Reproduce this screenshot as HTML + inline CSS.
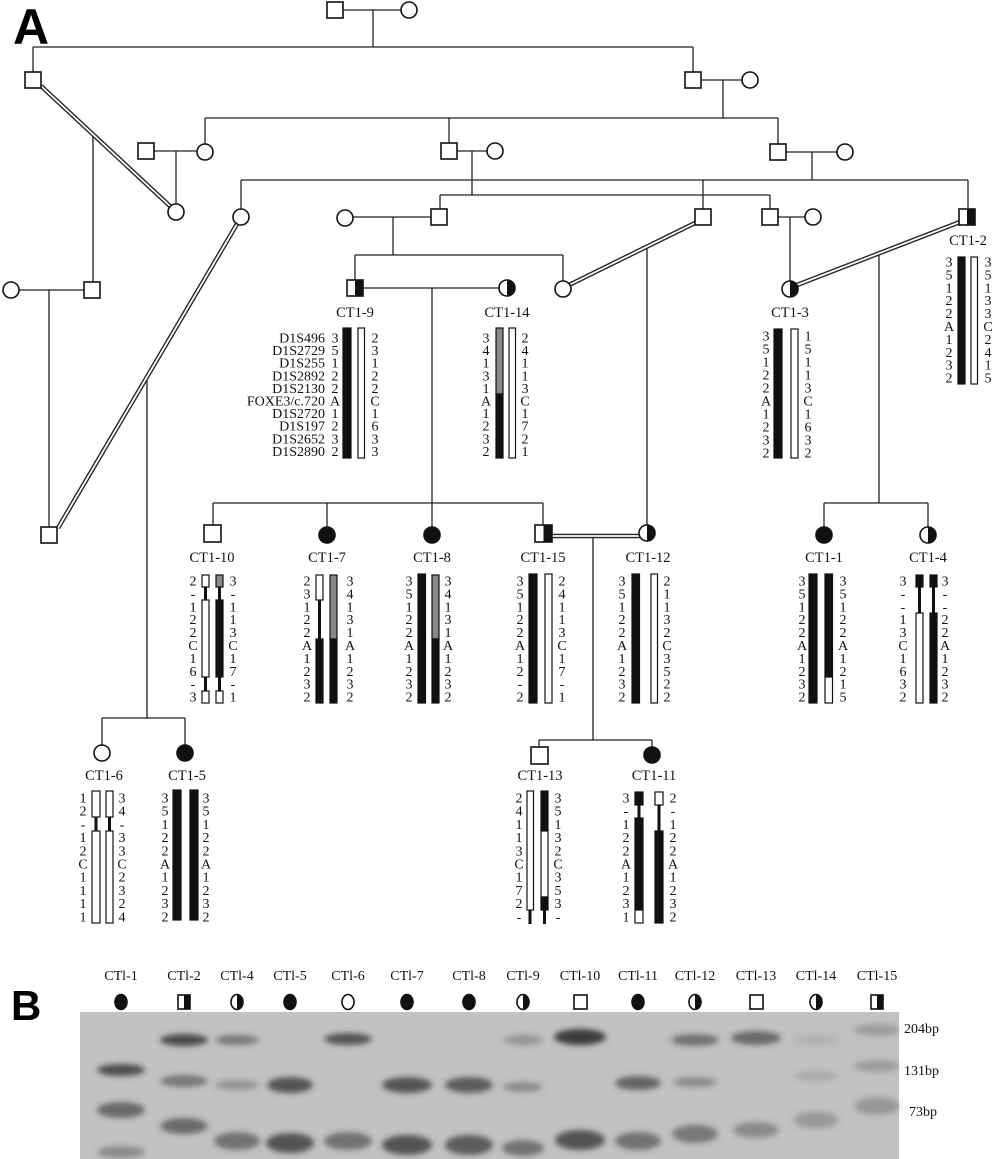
<!DOCTYPE html>
<html><head><meta charset="utf-8"><style>
html,body{margin:0;padding:0;background:#fff}
svg{display:block}
.d{font-family:"Liberation Serif",serif;font-size:14px;text-anchor:middle;fill:#111}
.lb{font-family:"Liberation Serif",serif;font-size:14.5px;text-anchor:middle;fill:#111}
.nm{font-family:"Liberation Serif",serif;font-size:14px;text-anchor:end;fill:#111}
.g{font-family:"Liberation Serif",serif;font-size:14px;text-anchor:middle;fill:#111}
</style></head><body>
<svg width="1000" height="1159" viewBox="0 0 1000 1159" xmlns="http://www.w3.org/2000/svg">
<defs><filter id="bl" x="-50%" y="-100%" width="200%" height="300%"><feGaussianBlur stdDeviation="3"/></filter></defs>
<text x="13" y="44" font-family="Liberation Sans,sans-serif" font-weight="bold" font-size="50">A</text>

<g stroke="#222" stroke-width="1.3" fill="none">
<line x1="343" y1="10" x2="401" y2="10"/><line x1="373" y1="10" x2="373" y2="47"/>
<line x1="33" y1="47" x2="693" y2="47"/><line x1="33" y1="47" x2="33" y2="72"/><line x1="693" y1="47" x2="693" y2="72"/>
<line x1="701" y1="80" x2="742" y2="80"/><line x1="723" y1="80" x2="723" y2="118"/>
<line x1="205" y1="118" x2="778" y2="118"/>
<line x1="205" y1="118" x2="205" y2="144"/><line x1="449" y1="118" x2="449" y2="143"/><line x1="778" y1="118" x2="778" y2="144"/>
<line x1="154" y1="151" x2="197" y2="151"/><line x1="176" y1="151" x2="176" y2="204"/>
<line x1="457" y1="151" x2="487" y2="151"/><line x1="472" y1="151" x2="472" y2="195"/>
<line x1="786" y1="152" x2="837" y2="152"/><line x1="812" y1="152" x2="812" y2="180"/>
<line x1="241" y1="180" x2="968" y2="180"/>
<line x1="241" y1="180" x2="241" y2="209"/><line x1="703" y1="180" x2="703" y2="209"/><line x1="968" y1="180" x2="968" y2="209"/>
<line x1="440" y1="195" x2="770" y2="195"/><line x1="440" y1="195" x2="440" y2="209"/><line x1="770" y1="195" x2="770" y2="209"/>
<line x1="93" y1="134" x2="93" y2="282"/>
<line x1="19" y1="290" x2="84" y2="290"/><line x1="49" y1="290" x2="49" y2="527"/>
<line x1="147" y1="379" x2="147" y2="718"/><line x1="102" y1="718" x2="185" y2="718"/>
<line x1="102" y1="718" x2="102" y2="745"/><line x1="185" y1="718" x2="185" y2="745"/>
<line x1="353" y1="217" x2="431" y2="217"/><line x1="393" y1="217" x2="393" y2="255"/>
<line x1="355" y1="255" x2="563" y2="255"/><line x1="355" y1="255" x2="355" y2="280"/><line x1="563" y1="255" x2="563" y2="281"/>
<line x1="647" y1="247" x2="647" y2="525"/>
<line x1="778" y1="217" x2="805" y2="217"/><line x1="790" y1="217" x2="790" y2="281"/>
<line x1="879" y1="253" x2="879" y2="503"/><line x1="824" y1="503" x2="928" y2="503"/>
<line x1="824" y1="503" x2="824" y2="527"/><line x1="928" y1="503" x2="928" y2="527"/>
<line x1="363" y1="288" x2="499" y2="288"/><line x1="432" y1="288" x2="432" y2="503"/>
<line x1="213" y1="503" x2="543" y2="503"/>
<line x1="213" y1="503" x2="213" y2="525"/><line x1="327" y1="503" x2="327" y2="527"/><line x1="432" y1="503" x2="432" y2="527"/><line x1="543" y1="503" x2="543" y2="525"/>
<line x1="593" y1="538" x2="593" y2="740"/><line x1="539" y1="740" x2="652" y2="740"/>
<line x1="539" y1="740" x2="539" y2="747"/><line x1="652" y1="740" x2="652" y2="747"/>
</g>
<g stroke-linecap="butt">
<g stroke="#222" stroke-width="4.5">
<line x1="41" y1="86" x2="171" y2="207"/><line x1="58" y1="528" x2="237" y2="224"/>
<line x1="569" y1="285" x2="697" y2="222"/><line x1="797" y1="285" x2="960" y2="222"/>
<line x1="552" y1="536" x2="640" y2="536"/>
</g>
<g stroke="#fff" stroke-width="1.8">
<line x1="41" y1="86" x2="171" y2="207"/><line x1="58" y1="528" x2="237" y2="224"/>
<line x1="569" y1="285" x2="697" y2="222"/><line x1="797" y1="285" x2="960" y2="222"/>
<line x1="552" y1="536" x2="640" y2="536"/>
</g>
</g>
<g stroke="#111" stroke-width="1.6" fill="#fff">
<rect x="327" y="2" width="16" height="16"/><circle cx="409" cy="10" r="8"/>
<rect x="25" y="72" width="16" height="16"/><rect x="685" y="72" width="16" height="16"/><circle cx="750" cy="80" r="8"/>
<rect x="138" y="143" width="16" height="16"/><circle cx="205" cy="152" r="8"/>
<rect x="441" y="143" width="16" height="16"/><circle cx="495" cy="151" r="8"/>
<rect x="770" y="144" width="16" height="16"/><circle cx="845" cy="152" r="8"/>
<circle cx="176" cy="212" r="8"/><circle cx="241" cy="217" r="8"/>
<circle cx="345" cy="218" r="8"/><rect x="431" y="209" width="16" height="16"/>
<rect x="695" y="209" width="16" height="16"/><rect x="762" y="209" width="16" height="16"/><circle cx="813" cy="217" r="8"/>
<rect x="959" y="209" width="16" height="16"/>
<circle cx="11" cy="290" r="8"/><rect x="84" y="282" width="16" height="16"/>
<rect x="41" y="527" width="16" height="16"/>
<circle cx="563" cy="289" r="8"/>
<rect x="347" y="280" width="16" height="16"/><circle cx="507" cy="288" r="8"/>
<circle cx="790" cy="289" r="8"/>
<rect x="204" y="525" width="17" height="17"/><circle cx="327" cy="535" r="8" fill="#111"/><circle cx="432" cy="535" r="8" fill="#111"/>
<rect x="535" y="525" width="17" height="17"/><circle cx="647" cy="533" r="8"/>
<circle cx="824" cy="535" r="8" fill="#111"/><circle cx="928" cy="535" r="8"/>
<circle cx="102" cy="753" r="8"/><circle cx="185" cy="753" r="8" fill="#111"/>
<rect x="531" y="747" width="17" height="17"/><circle cx="652" cy="755" r="8" fill="#111"/>
</g>
<g fill="#111">
<rect x="967" y="209" width="8" height="16"/><rect x="355" y="280" width="8" height="16"/><rect x="543.5" y="525" width="8.5" height="17"/>
<path d="M507 280 A8 8 0 0 1 507 296Z"/><path d="M790 281 A8 8 0 0 1 790 297Z"/><path d="M647 525 A8 8 0 0 1 647 541Z"/><path d="M928 527 A8 8 0 0 1 928 543Z"/>
</g>

<text class="lb" x="355" y="317">CT1-9</text><text class="lb" x="507" y="317">CT1-14</text>
<text class="lb" x="968" y="245">CT1-2</text><text class="lb" x="790" y="317">CT1-3</text>
<text class="lb" x="212" y="562">CT1-10</text><text class="lb" x="327" y="562">CT1-7</text><text class="lb" x="432" y="562">CT1-8</text>
<text class="lb" x="543" y="562">CT1-15</text><text class="lb" x="648" y="562">CT1-12</text>
<text class="lb" x="824" y="562">CT1-1</text><text class="lb" x="928" y="562">CT1-4</text>
<text class="lb" x="104" y="780">CT1-6</text><text class="lb" x="187" y="780">CT1-5</text>
<text class="lb" x="540" y="780">CT1-13</text><text class="lb" x="654" y="780">CT1-11</text>

<text class="nm" y="342.5"><tspan x="325">D1S496</tspan><tspan x="325" dy="12.6">D1S2729</tspan><tspan x="325" dy="12.6">D1S255</tspan><tspan x="325" dy="12.6">D1S2892</tspan><tspan x="325" dy="12.6">D1S2130</tspan><tspan x="325" dy="12.6">FOXE3/c.720</tspan><tspan x="325" dy="12.6">D1S2720</tspan><tspan x="325" dy="12.6">D1S197</tspan><tspan x="325" dy="12.6">D1S2652</tspan><tspan x="325" dy="12.6">D1S2890</tspan></text>

<g stroke="#111" stroke-width="1.2">
<rect x="343" y="328" width="8" height="130" fill="#111"/><rect x="358" y="328" width="6.5" height="130" fill="#fff"/>
<rect x="496" y="328" width="7" height="66" fill="#888"/><rect x="496" y="394" width="7" height="64" fill="#111"/><rect x="509" y="328" width="6.5" height="130" fill="#fff"/>
<rect x="958" y="257" width="7" height="127" fill="#111"/><rect x="971" y="257" width="6.5" height="127" fill="#fff"/>
<rect x="774" y="329" width="8" height="129" fill="#111"/><rect x="791" y="329" width="7" height="129" fill="#fff"/>
<line x1="205.5" y1="587" x2="205.5" y2="600" stroke-width="3"/><line x1="205.5" y1="677" x2="205.5" y2="691" stroke-width="3"/>
<rect x="202" y="575" width="7" height="12" fill="#fff"/><rect x="202" y="600" width="7" height="77" fill="#fff"/><rect x="202" y="691" width="7" height="12" fill="#fff"/>
<line x1="219.5" y1="587" x2="219.5" y2="600" stroke-width="3"/><line x1="219.5" y1="677" x2="219.5" y2="691" stroke-width="3"/>
<rect x="216" y="575" width="7" height="12" fill="#888"/><rect x="216" y="600" width="7" height="77" fill="#111"/><rect x="216" y="691" width="7" height="12" fill="#fff"/>
<line x1="319.5" y1="600" x2="319.5" y2="639" stroke-width="3"/>
<rect x="316" y="575" width="7" height="25" fill="#fff"/><rect x="316" y="639" width="7" height="64" fill="#111"/>
<rect x="330" y="575" width="7" height="64" fill="#888"/><rect x="330" y="639" width="7" height="64" fill="#111"/>
<rect x="418" y="574" width="7.5" height="129" fill="#111"/>
<rect x="432" y="575" width="7" height="64" fill="#888"/><rect x="432" y="639" width="7" height="64" fill="#111"/>
<rect x="529" y="574" width="8" height="129" fill="#111"/><rect x="545" y="574" width="7" height="129" fill="#fff"/>
<rect x="632" y="574" width="7.5" height="129" fill="#111"/><rect x="651" y="574" width="6.5" height="129" fill="#fff"/>
<rect x="809" y="574" width="8" height="129" fill="#111"/>
<rect x="825" y="574" width="7.5" height="103" fill="#111"/><rect x="825" y="677" width="7.5" height="26" fill="#fff"/>
<line x1="919.5" y1="587" x2="919.5" y2="613" stroke-width="3"/><line x1="933.5" y1="587" x2="933.5" y2="613" stroke-width="3"/>
<rect x="916" y="575" width="7" height="12" fill="#111"/><rect x="916" y="613" width="7" height="90" fill="#fff"/>
<rect x="930" y="575" width="7" height="12" fill="#111"/><rect x="930" y="613" width="7" height="90" fill="#111"/>
<line x1="96" y1="817" x2="96" y2="831" stroke-width="3"/><line x1="109.5" y1="817" x2="109.5" y2="831" stroke-width="3"/>
<rect x="92" y="791" width="8" height="26" fill="#fff"/><rect x="92" y="831" width="8" height="92" fill="#fff"/>
<rect x="106" y="791" width="7" height="26" fill="#fff"/><rect x="106" y="831" width="7" height="92" fill="#fff"/>
<rect x="173" y="790" width="8" height="130" fill="#111"/><rect x="190" y="790" width="8" height="130" fill="#111"/>
<line x1="530" y1="910" x2="530" y2="924" stroke-width="3"/><line x1="544.5" y1="910" x2="544.5" y2="924" stroke-width="3"/>
<rect x="527" y="791" width="6.5" height="119" fill="#fff"/>
<rect x="541" y="791" width="7" height="40" fill="#111"/><rect x="541" y="831" width="7" height="66" fill="#fff"/><rect x="541" y="897" width="7" height="13" fill="#111"/>
<line x1="639" y1="805" x2="639" y2="818" stroke-width="3"/><line x1="659" y1="805" x2="659" y2="831" stroke-width="3"/>
<rect x="635" y="792" width="8" height="13" fill="#111"/><rect x="635" y="818" width="8" height="92" fill="#111"/><rect x="635" y="910" width="8" height="13" fill="#fff"/>
<rect x="655" y="792" width="8" height="13" fill="#fff"/><rect x="655" y="831" width="8" height="92" fill="#111"/>
</g>

<g>
<text class="d" y="342.5"><tspan x="335">3</tspan><tspan x="335" dy="12.6">5</tspan><tspan x="335" dy="12.6">1</tspan><tspan x="335" dy="12.6">2</tspan><tspan x="335" dy="12.6">2</tspan><tspan x="335" dy="12.6">A</tspan><tspan x="335" dy="12.6">1</tspan><tspan x="335" dy="12.6">2</tspan><tspan x="335" dy="12.6">3</tspan><tspan x="335" dy="12.6">2</tspan></text>
<text class="d" y="342.5"><tspan x="375">2</tspan><tspan x="375" dy="12.6">3</tspan><tspan x="375" dy="12.6">1</tspan><tspan x="375" dy="12.6">2</tspan><tspan x="375" dy="12.6">2</tspan><tspan x="375" dy="12.6">C</tspan><tspan x="375" dy="12.6">1</tspan><tspan x="375" dy="12.6">6</tspan><tspan x="375" dy="12.6">3</tspan><tspan x="375" dy="12.6">3</tspan></text>
<text class="d" y="342.5"><tspan x="486">3</tspan><tspan x="486" dy="12.6">4</tspan><tspan x="486" dy="12.6">1</tspan><tspan x="486" dy="12.6">3</tspan><tspan x="486" dy="12.6">1</tspan><tspan x="486" dy="12.6">A</tspan><tspan x="486" dy="12.6">1</tspan><tspan x="486" dy="12.6">2</tspan><tspan x="486" dy="12.6">3</tspan><tspan x="486" dy="12.6">2</tspan></text>
<text class="d" y="342.5"><tspan x="525">2</tspan><tspan x="525" dy="12.6">4</tspan><tspan x="525" dy="12.6">1</tspan><tspan x="525" dy="12.6">1</tspan><tspan x="525" dy="12.6">3</tspan><tspan x="525" dy="12.6">C</tspan><tspan x="525" dy="12.6">1</tspan><tspan x="525" dy="12.6">7</tspan><tspan x="525" dy="12.6">2</tspan><tspan x="525" dy="12.6">1</tspan></text>

<text class="d" y="266.5"><tspan x="949">3</tspan><tspan x="949" dy="12.9">5</tspan><tspan x="949" dy="12.9">1</tspan><tspan x="949" dy="12.9">2</tspan><tspan x="949" dy="12.9">2</tspan><tspan x="949" dy="12.9">A</tspan><tspan x="949" dy="12.9">1</tspan><tspan x="949" dy="12.9">2</tspan><tspan x="949" dy="12.9">3</tspan><tspan x="949" dy="12.9">2</tspan></text>
<text class="d" y="266.5"><tspan x="988">3</tspan><tspan x="988" dy="12.9">5</tspan><tspan x="988" dy="12.9">1</tspan><tspan x="988" dy="12.9">3</tspan><tspan x="988" dy="12.9">3</tspan><tspan x="988" dy="12.9">C</tspan><tspan x="988" dy="12.9">2</tspan><tspan x="988" dy="12.9">4</tspan><tspan x="988" dy="12.9">1</tspan><tspan x="988" dy="12.9">5</tspan></text>

<text class="d" y="340.5"><tspan x="766">3</tspan><tspan x="766" dy="13">5</tspan><tspan x="766" dy="13">1</tspan><tspan x="766" dy="13">2</tspan><tspan x="766" dy="13">2</tspan><tspan x="766" dy="13">A</tspan><tspan x="766" dy="13">1</tspan><tspan x="766" dy="13">2</tspan><tspan x="766" dy="13">3</tspan><tspan x="766" dy="13">2</tspan></text>
<text class="d" y="340.5"><tspan x="808">1</tspan><tspan x="808" dy="13">5</tspan><tspan x="808" dy="13">1</tspan><tspan x="808" dy="13">1</tspan><tspan x="808" dy="13">3</tspan><tspan x="808" dy="13">C</tspan><tspan x="808" dy="13">1</tspan><tspan x="808" dy="13">6</tspan><tspan x="808" dy="13">3</tspan><tspan x="808" dy="13">2</tspan></text>

<text class="d" y="585.5"><tspan x="193">2</tspan><tspan x="193" dy="12.9">-</tspan><tspan x="193" dy="12.9">1</tspan><tspan x="193" dy="12.9">2</tspan><tspan x="193" dy="12.9">2</tspan><tspan x="193" dy="12.9">C</tspan><tspan x="193" dy="12.9">1</tspan><tspan x="193" dy="12.9">6</tspan><tspan x="193" dy="12.9">-</tspan><tspan x="193" dy="12.9">3</tspan></text>
<text class="d" y="585.5"><tspan x="233">3</tspan><tspan x="233" dy="12.9">-</tspan><tspan x="233" dy="12.9">1</tspan><tspan x="233" dy="12.9">1</tspan><tspan x="233" dy="12.9">3</tspan><tspan x="233" dy="12.9">C</tspan><tspan x="233" dy="12.9">1</tspan><tspan x="233" dy="12.9">7</tspan><tspan x="233" dy="12.9">-</tspan><tspan x="233" dy="12.9">1</tspan></text>
<text class="d" y="585.5"><tspan x="307">2</tspan><tspan x="307" dy="12.9">3</tspan><tspan x="307" dy="12.9">1</tspan><tspan x="307" dy="12.9">2</tspan><tspan x="307" dy="12.9">2</tspan><tspan x="307" dy="12.9">A</tspan><tspan x="307" dy="12.9">1</tspan><tspan x="307" dy="12.9">2</tspan><tspan x="307" dy="12.9">3</tspan><tspan x="307" dy="12.9">2</tspan></text>
<text class="d" y="585.5"><tspan x="350">3</tspan><tspan x="350" dy="12.9">4</tspan><tspan x="350" dy="12.9">1</tspan><tspan x="350" dy="12.9">3</tspan><tspan x="350" dy="12.9">1</tspan><tspan x="350" dy="12.9">A</tspan><tspan x="350" dy="12.9">1</tspan><tspan x="350" dy="12.9">2</tspan><tspan x="350" dy="12.9">3</tspan><tspan x="350" dy="12.9">2</tspan></text>
<text class="d" y="585.5"><tspan x="409">3</tspan><tspan x="409" dy="12.9">5</tspan><tspan x="409" dy="12.9">1</tspan><tspan x="409" dy="12.9">2</tspan><tspan x="409" dy="12.9">2</tspan><tspan x="409" dy="12.9">A</tspan><tspan x="409" dy="12.9">1</tspan><tspan x="409" dy="12.9">2</tspan><tspan x="409" dy="12.9">3</tspan><tspan x="409" dy="12.9">2</tspan></text>
<text class="d" y="585.5"><tspan x="448">3</tspan><tspan x="448" dy="12.9">4</tspan><tspan x="448" dy="12.9">1</tspan><tspan x="448" dy="12.9">3</tspan><tspan x="448" dy="12.9">1</tspan><tspan x="448" dy="12.9">A</tspan><tspan x="448" dy="12.9">1</tspan><tspan x="448" dy="12.9">2</tspan><tspan x="448" dy="12.9">3</tspan><tspan x="448" dy="12.9">2</tspan></text>
<text class="d" y="585.5"><tspan x="520">3</tspan><tspan x="520" dy="12.9">5</tspan><tspan x="520" dy="12.9">1</tspan><tspan x="520" dy="12.9">2</tspan><tspan x="520" dy="12.9">2</tspan><tspan x="520" dy="12.9">A</tspan><tspan x="520" dy="12.9">1</tspan><tspan x="520" dy="12.9">2</tspan><tspan x="520" dy="12.9">-</tspan><tspan x="520" dy="12.9">2</tspan></text>
<text class="d" y="585.5"><tspan x="562">2</tspan><tspan x="562" dy="12.9">4</tspan><tspan x="562" dy="12.9">1</tspan><tspan x="562" dy="12.9">1</tspan><tspan x="562" dy="12.9">3</tspan><tspan x="562" dy="12.9">C</tspan><tspan x="562" dy="12.9">1</tspan><tspan x="562" dy="12.9">7</tspan><tspan x="562" dy="12.9">-</tspan><tspan x="562" dy="12.9">1</tspan></text>
<text class="d" y="585.5"><tspan x="622">3</tspan><tspan x="622" dy="12.9">5</tspan><tspan x="622" dy="12.9">1</tspan><tspan x="622" dy="12.9">2</tspan><tspan x="622" dy="12.9">2</tspan><tspan x="622" dy="12.9">A</tspan><tspan x="622" dy="12.9">1</tspan><tspan x="622" dy="12.9">2</tspan><tspan x="622" dy="12.9">3</tspan><tspan x="622" dy="12.9">2</tspan></text>
<text class="d" y="585.5"><tspan x="667">2</tspan><tspan x="667" dy="12.9">1</tspan><tspan x="667" dy="12.9">1</tspan><tspan x="667" dy="12.9">3</tspan><tspan x="667" dy="12.9">2</tspan><tspan x="667" dy="12.9">C</tspan><tspan x="667" dy="12.9">3</tspan><tspan x="667" dy="12.9">5</tspan><tspan x="667" dy="12.9">2</tspan><tspan x="667" dy="12.9">2</tspan></text>
<text class="d" y="585.5"><tspan x="802">3</tspan><tspan x="802" dy="12.9">5</tspan><tspan x="802" dy="12.9">1</tspan><tspan x="802" dy="12.9">2</tspan><tspan x="802" dy="12.9">2</tspan><tspan x="802" dy="12.9">A</tspan><tspan x="802" dy="12.9">1</tspan><tspan x="802" dy="12.9">2</tspan><tspan x="802" dy="12.9">3</tspan><tspan x="802" dy="12.9">2</tspan></text>
<text class="d" y="585.5"><tspan x="843">3</tspan><tspan x="843" dy="12.9">5</tspan><tspan x="843" dy="12.9">1</tspan><tspan x="843" dy="12.9">2</tspan><tspan x="843" dy="12.9">2</tspan><tspan x="843" dy="12.9">A</tspan><tspan x="843" dy="12.9">1</tspan><tspan x="843" dy="12.9">2</tspan><tspan x="843" dy="12.9">1</tspan><tspan x="843" dy="12.9">5</tspan></text>
<text class="d" y="585.5"><tspan x="903">3</tspan><tspan x="903" dy="12.9">-</tspan><tspan x="903" dy="12.9">-</tspan><tspan x="903" dy="12.9">1</tspan><tspan x="903" dy="12.9">3</tspan><tspan x="903" dy="12.9">C</tspan><tspan x="903" dy="12.9">1</tspan><tspan x="903" dy="12.9">6</tspan><tspan x="903" dy="12.9">3</tspan><tspan x="903" dy="12.9">2</tspan></text>
<text class="d" y="585.5"><tspan x="945">3</tspan><tspan x="945" dy="12.9">-</tspan><tspan x="945" dy="12.9">-</tspan><tspan x="945" dy="12.9">2</tspan><tspan x="945" dy="12.9">2</tspan><tspan x="945" dy="12.9">A</tspan><tspan x="945" dy="12.9">1</tspan><tspan x="945" dy="12.9">2</tspan><tspan x="945" dy="12.9">3</tspan><tspan x="945" dy="12.9">2</tspan></text>

<text class="d" y="802.5"><tspan x="83">1</tspan><tspan x="83" dy="13.2">2</tspan><tspan x="83" dy="13.2">-</tspan><tspan x="83" dy="13.2">1</tspan><tspan x="83" dy="13.2">2</tspan><tspan x="83" dy="13.2">C</tspan><tspan x="83" dy="13.2">1</tspan><tspan x="83" dy="13.2">1</tspan><tspan x="83" dy="13.2">1</tspan><tspan x="83" dy="13.2">1</tspan></text>
<text class="d" y="802.5"><tspan x="122">3</tspan><tspan x="122" dy="13.2">4</tspan><tspan x="122" dy="13.2">-</tspan><tspan x="122" dy="13.2">3</tspan><tspan x="122" dy="13.2">3</tspan><tspan x="122" dy="13.2">C</tspan><tspan x="122" dy="13.2">2</tspan><tspan x="122" dy="13.2">3</tspan><tspan x="122" dy="13.2">2</tspan><tspan x="122" dy="13.2">4</tspan></text>
<text class="d" y="802.5"><tspan x="165">3</tspan><tspan x="165" dy="13.2">5</tspan><tspan x="165" dy="13.2">1</tspan><tspan x="165" dy="13.2">2</tspan><tspan x="165" dy="13.2">2</tspan><tspan x="165" dy="13.2">A</tspan><tspan x="165" dy="13.2">1</tspan><tspan x="165" dy="13.2">2</tspan><tspan x="165" dy="13.2">3</tspan><tspan x="165" dy="13.2">2</tspan></text>
<text class="d" y="802.5"><tspan x="206">3</tspan><tspan x="206" dy="13.2">5</tspan><tspan x="206" dy="13.2">1</tspan><tspan x="206" dy="13.2">2</tspan><tspan x="206" dy="13.2">2</tspan><tspan x="206" dy="13.2">A</tspan><tspan x="206" dy="13.2">1</tspan><tspan x="206" dy="13.2">2</tspan><tspan x="206" dy="13.2">3</tspan><tspan x="206" dy="13.2">2</tspan></text>
<text class="d" y="802.5"><tspan x="519">2</tspan><tspan x="519" dy="13.2">4</tspan><tspan x="519" dy="13.2">1</tspan><tspan x="519" dy="13.2">1</tspan><tspan x="519" dy="13.2">3</tspan><tspan x="519" dy="13.2">C</tspan><tspan x="519" dy="13.2">1</tspan><tspan x="519" dy="13.2">7</tspan><tspan x="519" dy="13.2">2</tspan><tspan x="519" dy="13.2">-</tspan></text>
<text class="d" y="802.5"><tspan x="558">3</tspan><tspan x="558" dy="13.2">5</tspan><tspan x="558" dy="13.2">1</tspan><tspan x="558" dy="13.2">3</tspan><tspan x="558" dy="13.2">2</tspan><tspan x="558" dy="13.2">C</tspan><tspan x="558" dy="13.2">3</tspan><tspan x="558" dy="13.2">5</tspan><tspan x="558" dy="13.2">3</tspan><tspan x="558" dy="13.2">-</tspan></text>
<text class="d" y="802.5"><tspan x="626">3</tspan><tspan x="626" dy="13.2">-</tspan><tspan x="626" dy="13.2">1</tspan><tspan x="626" dy="13.2">2</tspan><tspan x="626" dy="13.2">2</tspan><tspan x="626" dy="13.2">A</tspan><tspan x="626" dy="13.2">1</tspan><tspan x="626" dy="13.2">2</tspan><tspan x="626" dy="13.2">3</tspan><tspan x="626" dy="13.2">1</tspan></text>
<text class="d" y="802.5"><tspan x="673">2</tspan><tspan x="673" dy="13.2">-</tspan><tspan x="673" dy="13.2">1</tspan><tspan x="673" dy="13.2">2</tspan><tspan x="673" dy="13.2">2</tspan><tspan x="673" dy="13.2">A</tspan><tspan x="673" dy="13.2">1</tspan><tspan x="673" dy="13.2">2</tspan><tspan x="673" dy="13.2">3</tspan><tspan x="673" dy="13.2">2</tspan></text>
</g>

<text x="11" y="1020" font-family="Liberation Sans,sans-serif" font-weight="bold" font-size="42">B</text>
<g class="g">
<text x="121" y="980">CTl-1</text><text x="184" y="980">CTl-2</text><text x="237" y="980">CTl-4</text><text x="290" y="980">CTl-5</text>
<text x="348" y="980">CTl-6</text><text x="407" y="980">CTl-7</text><text x="469" y="980">CTl-8</text><text x="523" y="980">CTl-9</text>
<text x="580" y="980">CTl-10</text><text x="638" y="980">CTl-11</text><text x="695" y="980">CTl-12</text><text x="756" y="980">CTl-13</text>
<text x="816" y="980">CTl-14</text><text x="877" y="980">CTl-15</text>
</g>
<g stroke="#111" stroke-width="1.6" fill="#fff">
<ellipse cx="121" cy="1002" rx="6" ry="7.5" fill="#111"/>
<rect x="178" y="995" width="12" height="14"/>
<ellipse cx="237" cy="1002" rx="6" ry="7.5"/>
<ellipse cx="290" cy="1002" rx="6" ry="7.5" fill="#111"/>
<ellipse cx="348" cy="1002" rx="6" ry="7.5"/>
<ellipse cx="407" cy="1002" rx="6" ry="7.5" fill="#111"/>
<ellipse cx="469" cy="1002" rx="6" ry="7.5" fill="#111"/>
<ellipse cx="523" cy="1002" rx="6" ry="7.5"/>
<rect x="574" y="995" width="13" height="14"/>
<ellipse cx="638" cy="1002" rx="6" ry="7.5" fill="#111"/>
<ellipse cx="695" cy="1002" rx="6" ry="7.5"/>
<rect x="750" y="995" width="13" height="14"/>
<ellipse cx="816" cy="1002" rx="6" ry="7.5"/>
<rect x="871" y="995" width="12" height="14"/>
</g>
<g fill="#111">
<rect x="184" y="995" width="6" height="14"/><rect x="877" y="995" width="6" height="14"/>
<path d="M237 994.5 A6 7.5 0 0 1 237 1009.5Z"/><path d="M523 994.5 A6 7.5 0 0 1 523 1009.5Z"/><path d="M695 994.5 A6 7.5 0 0 1 695 1009.5Z"/><path d="M816 994.5 A6 7.5 0 0 1 816 1009.5Z"/>
</g>
<rect x="80" y="1012" width="819" height="147" fill="#c2c2c2"/>
<g filter="url(#bl)" fill="#3a3a3a">
<ellipse cx="121" cy="1070" rx="24" ry="6" opacity="0.85"/><ellipse cx="121" cy="1110" rx="24" ry="8" opacity="0.65"/><ellipse cx="121" cy="1152" rx="24" ry="6" opacity="0.4"/>
<ellipse cx="184" cy="1040" rx="24" ry="6" opacity="0.9"/><ellipse cx="184" cy="1081" rx="24" ry="6" opacity="0.55"/><ellipse cx="184" cy="1126" rx="24" ry="8" opacity="0.65"/>
<ellipse cx="237" cy="1040" rx="22" ry="5" opacity="0.55"/><ellipse cx="237" cy="1085" rx="22" ry="5" opacity="0.35"/><ellipse cx="237" cy="1141" rx="23" ry="9" opacity="0.6"/>
<ellipse cx="290" cy="1085" rx="23" ry="8" opacity="0.8"/><ellipse cx="290" cy="1143" rx="24" ry="10" opacity="0.8"/>
<ellipse cx="348" cy="1039" rx="24" ry="6" opacity="0.8"/><ellipse cx="348" cy="1141" rx="24" ry="9" opacity="0.6"/>
<ellipse cx="407" cy="1085" rx="25" ry="8" opacity="0.8"/><ellipse cx="407" cy="1145" rx="25" ry="10" opacity="0.8"/>
<ellipse cx="469" cy="1085" rx="24" ry="8" opacity="0.75"/><ellipse cx="469" cy="1145" rx="24" ry="10" opacity="0.75"/>
<ellipse cx="523" cy="1040" rx="20" ry="5" opacity="0.35"/><ellipse cx="523" cy="1087" rx="20" ry="5" opacity="0.4"/><ellipse cx="523" cy="1148" rx="21" ry="8" opacity="0.6"/>
<ellipse cx="580" cy="1037" rx="26" ry="8" opacity="1"/><ellipse cx="580" cy="1140" rx="25" ry="10" opacity="0.8"/>
<ellipse cx="638" cy="1083" rx="23" ry="7" opacity="0.7"/><ellipse cx="638" cy="1141" rx="23" ry="9" opacity="0.6"/>
<ellipse cx="695" cy="1040" rx="24" ry="6" opacity="0.6"/><ellipse cx="695" cy="1082" rx="22" ry="5" opacity="0.4"/><ellipse cx="695" cy="1134" rx="23" ry="9" opacity="0.55"/>
<ellipse cx="756" cy="1038" rx="25" ry="7" opacity="0.65"/><ellipse cx="756" cy="1130" rx="23" ry="8" opacity="0.4"/>
<ellipse cx="816" cy="1040" rx="22" ry="5" opacity="0.15"/><ellipse cx="816" cy="1076" rx="22" ry="5" opacity="0.18"/><ellipse cx="816" cy="1120" rx="23" ry="8" opacity="0.3"/>
<ellipse cx="877" cy="1030" rx="23" ry="6" opacity="0.28"/><ellipse cx="877" cy="1066" rx="23" ry="6" opacity="0.28"/><ellipse cx="877" cy="1106" rx="23" ry="9" opacity="0.3"/>
</g>
<g class="g" style="text-anchor:start">
<text x="904" y="1033">204bp</text><text x="904" y="1075">131bp</text><text x="909" y="1116">73bp</text>
</g>
</svg>
</body></html>
